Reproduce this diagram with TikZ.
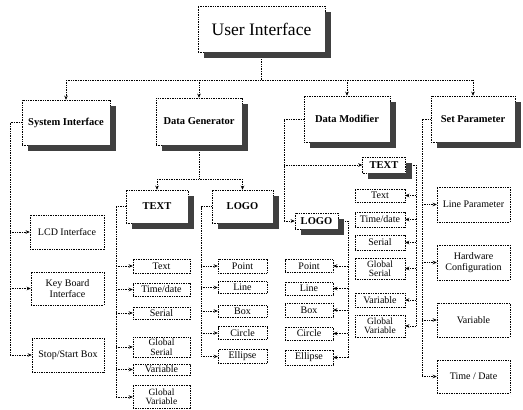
\documentclass[tikz,border=0pt]{standalone}
\usepackage{fontspec}
\setmainfont{Liberation Serif}
\usetikzlibrary{arrows.meta}
\begin{document}
\begin{tikzpicture}[x=1pt,y=-1pt,
  box/.style={draw, dash pattern=on 1pt off 0.7pt, line width=0.5pt, fill=white, inner sep=0pt, align=center, font=\fontsize{10}{10.5}\selectfont},
  twoline/.style={box, font=\fontsize{9.5}{9.5}\selectfont},
  head/.style={box, font=\fontsize{10.5}{12}\selectfont\bfseries},
  shadowfill/.style={fill=black!75},
  conn/.style={dash pattern=on 1pt off 0.7pt, line width=0.6pt},
  arr/.style={conn, -{Stealth[length=4pt,width=3.5pt]}}]
\useasboundingbox (0,0) rectangle (523,410);
% top
\node[box, font=\fontsize{17.5}{20}\selectfont, minimum width=127, minimum height=46] (ui) at (261.5,29) {User Interface};
% main headers
\node[head, minimum width=88, minimum height=45] (si) at (66,122.5) {System Interface};
\node[head, minimum width=86, minimum height=47] (dg) at (199,121.5) {Data Generator};
\node[head, minimum width=86, minimum height=46] (dm) at (347,119) {Data Modifier};
\node[head, minimum width=84, minimum height=46] (sp) at (473,119) {Set Parameter};
% system interface items
\node[box, minimum width=74, minimum height=34] (lcd) at (67,232) {LCD Interface};
\node[box, minimum width=73, minimum height=33] (kb) at (67.5,288.5) {Key Board\\Interface};
\node[box, minimum width=72, minimum height=34] (ss) at (68,355) {Stop/Start Box};
% data generator
\node[head, minimum width=62, minimum height=33] (gtext) at (157,206.5) {TEXT};
\node[head, minimum width=61, minimum height=33] (glogo) at (242.5,206.5) {LOGO};
\node[box, minimum width=57, minimum height=14] (gt1) at (161.5,266) {Text};
\node[box, minimum width=57, minimum height=13] (gt2) at (161.5,289.5) {Time/date};
\node[box, minimum width=57, minimum height=12] (gt3) at (161.5,313) {Serial};
\node[twoline, minimum width=57, minimum height=20] (gt4) at (161.5,347) {Global\\Serial};
\node[box, minimum width=57, minimum height=11] (gt5) at (161.5,369.5) {Variable};
\node[twoline, minimum width=57, minimum height=23] (gt6) at (161.5,397) {Global\\Variable};
\node[box, minimum width=49, minimum height=14] (gl1) at (242.5,266) {Point};
\node[box, minimum width=49, minimum height=12] (gl2) at (242.5,287.5) {Line};
\node[box, minimum width=49, minimum height=12] (gl3) at (242.5,311) {Box};
\node[box, minimum width=49, minimum height=13] (gl4) at (242.5,333) {Circle};
\node[box, minimum width=49, minimum height=14] (gl5) at (242.5,356.5) {Ellipse};
% data modifier
\node[head, minimum width=43, minimum height=16] (mtext) at (384,165) {TEXT};
\node[head, minimum width=43, minimum height=16] (mlogo) at (316.5,221) {LOGO};
\node[box, minimum width=50, minimum height=13] (mt1) at (380,195.5) {Text};
\node[box, minimum width=50, minimum height=15] (mt2) at (380,219.5) {Time/date};
\node[box, minimum width=50, minimum height=15] (mt3) at (380,242.5) {Serial};
\node[twoline, minimum width=50, minimum height=21] (mt4) at (380,268.5) {Global\\Serial};
\node[box, minimum width=50, minimum height=14] (mt5) at (380,300) {Variable};
\node[twoline, minimum width=50, minimum height=22] (mt6) at (380,326) {Global\\Variable};
\node[box, minimum width=48, minimum height=13] (ml1) at (309,266) {Point};
\node[box, minimum width=48, minimum height=13] (ml2) at (309,288.5) {Line};
\node[box, minimum width=48, minimum height=14] (ml3) at (309,310) {Box};
\node[box, minimum width=48, minimum height=13] (ml4) at (309,333.5) {Circle};
\node[box, minimum width=48, minimum height=15] (ml5) at (309,357.5) {Ellipse};
% set parameter
\node[box, minimum width=73, minimum height=35] (sp1) at (473.5,204.5) {Line Parameter};
\node[box, minimum width=73, minimum height=35] (sp2) at (473.5,262.5) {Hardware\\Configuration};
\node[box, minimum width=73, minimum height=34] (sp3) at (473.5,320) {Variable};
\node[box, minimum width=73, minimum height=33] (sp4) at (473.5,376.5) {Time / Date};
% junction coordinates
\coordinate (uiJ) at (261.5,80);
\coordinate (siL) at (10,122.5);
\coordinate (dgJ) at (199,179);
\coordinate (gtL) at (116,206.5);
\coordinate (glL) at (201,206.5);
\coordinate (dmL) at (284,119);
\coordinate (mtR) at (416,165);
\coordinate (mlR) at (348,221);
\coordinate (spL) at (422,119);
% connectors
\draw[conn] (ui.south) -- (uiJ);
\draw[conn] (si.north |- uiJ) -- (sp.north |- uiJ);
\foreach \n in {si,dg,dm,sp} \draw[arr] (\n.north |- uiJ) -- (\n.north);
\draw[conn] (si.west) -- (siL) -- (siL |- ss.west);
\foreach \n in {lcd,kb,ss} \draw[arr] (siL |- \n.west) -- (\n.west);
\draw[conn] (dg.south) -- (dgJ);
\draw[conn] (gtext.north |- dgJ) -- (glogo.north |- dgJ);
\draw[arr] (gtext.north |- dgJ) -- (gtext.north);
\draw[arr] (glogo.north |- dgJ) -- (glogo.north);
\draw[conn] (gtext.west) -- (gtL) -- (gtL |- gt6.west);
\foreach \n in {gt1,gt2,gt3,gt4,gt5,gt6} \draw[arr] (gtL |- \n.west) -- (\n.west);
\draw[conn] (glogo.west) -- (glL) -- (glL |- gl5.west);
\foreach \n in {gl1,gl2,gl3,gl4,gl5} \draw[arr] (glL |- \n.west) -- (\n.west);
\draw[conn] (dm.west) -- (dmL) -- (dmL |- mlogo.west);
\draw[arr] (dmL |- mlogo.west) -- (mlogo.west);
\draw[arr] (dmL |- mtext.west) -- (mtext.west);
\draw[conn] (mtext.east) -- (mtR) -- (mtR |- mt6.east);
\foreach \n in {mt1,mt2,mt3,mt4,mt5,mt6} \draw[arr] (mtR |- \n.east) -- (\n.east);
\draw[conn] (mlogo.east) -- (mlR) -- (mlR |- ml5.east);
\foreach \n in {ml1,ml2,ml3,ml4,ml5} \draw[arr] (mlR |- \n.east) -- (\n.east);
\draw[conn] (sp.west) -- (spL) -- (spL |- sp4.west);
\foreach \n in {sp1,sp2,sp3,sp4} \draw[arr] (spL |- \n.west) -- (\n.west);
% shadow strips (right and bottom of the header boxes)
\foreach \n in {ui,si,dg,dm,sp,gtext,glogo,mtext,mlogo} {
  \fill[shadowfill] ([shift={(0,6)}]\n.north east) rectangle ([shift={(6,6)}]\n.south east);
  \fill[shadowfill] ([shift={(6,0)}]\n.south west) rectangle ([shift={(6,6)}]\n.south east);
}
\end{tikzpicture}
\end{document}
